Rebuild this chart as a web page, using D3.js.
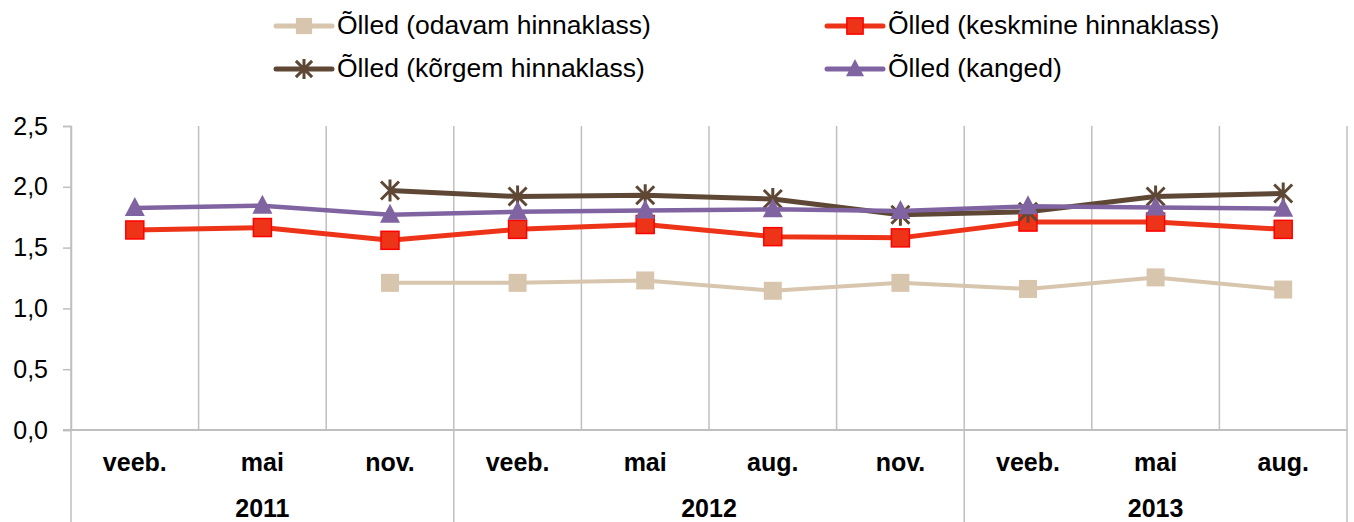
<!DOCTYPE html>
<html lang="et">
<head>
    <meta charset="UTF-8">
    <title>Õlled</title>
    <script src="https://d3js.org/d3.v7.min.js"></script>
    <style>
        body { margin: 0; background: #fff; font-family: "Liberation Sans", Arial, sans-serif; }
        svg text { fill: #000; }
    </style>
</head>
<body>
<div id="chart"></div>
<script>
    // Categories (month, year)
    const months = ["veeb.", "mai", "nov.", "veeb.", "mai", "aug.", "nov.", "veeb.", "mai", "aug."];
    const years = [
        {label: "2011", from: 0, to: 3},
        {label: "2012", from: 3, to: 7},
        {label: "2013", from: 7, to: 10}
    ];
    const yTicks = [0, 0.5, 1.0, 1.5, 2.0, 2.5];

    // Series values (null = no data)
    const odavam   = [null, null, 1.21, 1.21, 1.23, 1.145, 1.21, 1.16, 1.255, 1.155];
    const keskmine = [1.645, 1.665, 1.56, 1.65, 1.69, 1.59, 1.58, 1.71, 1.71, 1.65];
    const korgem   = [null, null, 1.97, 1.92, 1.93, 1.90, 1.77, 1.795, 1.92, 1.945];
    const kanged   = [1.825, 1.845, 1.77, 1.795, 1.805, 1.815, 1.80, 1.84, 1.83, 1.82];

    const series = [
        {name: "Õlled (odavam hinnaklass)", values: odavam, color: "#D8C5AE", marker: "square", stroke: "#D8C5AE", width: 4},
        {name: "Õlled (keskmine hinnaklass)", values: keskmine, color: "#EE3418", marker: "square", stroke: "#FF0000", width: 5},
        {name: "Õlled (kõrgem hinnaklass)", values: korgem, color: "#5E4835", marker: "star", stroke: "#5E4835", width: 5},
        {name: "Õlled (kanged)", values: kanged, color: "#8064A2", marker: "triangle", stroke: "#8064A2", width: 4.5}
    ];

    const W = 1354, H = 522;
    const margin = {left: 71, right: 7, top: 126, bottom: 92};
    const plotW = W - margin.left - margin.right;
    const plotH = H - margin.top - margin.bottom;

    const svg = d3.select("#chart").append("svg")
        .attr("width", W).attr("height", H);

    const x = d3.scaleBand().domain(d3.range(months.length)).range([margin.left, margin.left + plotW]);
    const y = d3.scaleLinear().domain([0, 2.5]).range([margin.top + plotH, margin.top]);

    const grid = "#BFBFBF";
    const edge = i => i < months.length ? x(i) : x.range()[1];

    // vertical gridlines
    svg.append("g").selectAll("line")
        .data(d3.range(months.length + 1))
        .enter().append("line")
        .attr("x1", edge).attr("x2", edge)
        .attr("y1", y(2.5)).attr("y2", y(0))
        .attr("stroke", grid).attr("stroke-width", 1.5);

    // y axis
    const yAxis = svg.append("g")
        .attr("transform", `translate(${margin.left},0)`)
        .call(d3.axisLeft(y).tickValues(yTicks).tickSize(8).tickPadding(15)
            .tickFormat(d => d3.format(".1f")(d).replace(".", ",")));
    yAxis.select(".domain").attr("stroke", grid).attr("stroke-width", 1.5);
    yAxis.selectAll(".tick line").attr("stroke", grid).attr("stroke-width", 1.5);
    yAxis.selectAll(".tick text")
        .style("font-size", "25px").style("font-family", "Liberation Sans, Arial, sans-serif")
        .attr("fill", "#000");

    // x axis line (zero)
    svg.append("line")
        .attr("x1", margin.left - 8).attr("x2", x.range()[1])
        .attr("y1", y(0)).attr("y2", y(0))
        .attr("stroke", grid).attr("stroke-width", 2);

    // year separators
    const seps = [0].concat(years.map(d => d.to));
    svg.append("g").selectAll("line")
        .data(seps)
        .enter().append("line")
        .attr("x1", edge).attr("x2", edge)
        .attr("y1", y(0)).attr("y2", H)
        .attr("stroke", grid).attr("stroke-width", 1.5);

    // month labels
    svg.append("g").selectAll("text")
        .data(months)
        .enter().append("text")
        .attr("x", (d, i) => x(i) + x.bandwidth() / 2)
        .attr("y", y(0) + 41)
        .attr("text-anchor", "middle")
        .style("font-size", "25px").style("font-weight", "bold")
        .text(d => d);

    // year labels
    svg.append("g").selectAll("text")
        .data(years)
        .enter().append("text")
        .attr("x", d => (edge(d.from) + edge(d.to)) / 2)
        .attr("y", y(0) + 87)
        .attr("text-anchor", "middle")
        .style("font-size", "25px").style("font-weight", "bold")
        .text(d => d.label);

    // markers
    function drawMarker(g, type, s, k) {
        if (type === "square") {
            const h = 9 * k;
            g.append("rect").attr("x", -h).attr("y", -h).attr("width", 2 * h).attr("height", 2 * h)
                .attr("fill", s.color).attr("stroke", s.stroke).attr("stroke-width", s.stroke === s.color ? 0 : 1.5);
        } else if (type === "triangle") {
            g.append("path").attr("d", `M0,${-11 * k}L${10 * k},${8 * k}L${-10 * k},${8 * k}Z`).attr("fill", s.color);
        } else if (type === "star") {
            const a = 9 * k, b = 11 * k;
            g.append("path").attr("d", `M${-a},${-a}L${a},${a}M${-a},${a}L${a},${-a}M0,${-b}L0,${b}`)
                .attr("stroke", s.color).attr("stroke-width", 3).attr("fill", "none");
        }
    }

    const line = d3.line()
        .defined(d => d != null)
        .x((d, i) => x(i) + x.bandwidth() / 2)
        .y(d => y(d));

    series.forEach(s => {
        svg.append("path")
            .datum(s.values)
            .attr("fill", "none")
            .attr("stroke", s.color)
            .attr("stroke-width", s.width)
            .attr("stroke-linejoin", "round")
            .attr("d", line);
        s.values.forEach((v, i) => {
            if (v == null) return;
            const g = svg.append("g").attr("transform", `translate(${x(i) + x.bandwidth() / 2},${y(v)})`);
            drawMarker(g, s.marker, s, 1);
        });
    });

    // legend
    const legendPos = [[276, 26], [827, 26], [276, 69], [827, 69]];
    series.forEach((s, i) => {
        const [lx, ly] = legendPos[i];
        const g = svg.append("g").attr("transform", `translate(${lx},${ly})`);
        g.append("line").attr("x1", 0).attr("x2", 56).attr("y1", 0).attr("y2", 0)
            .attr("stroke", s.color).attr("stroke-width", 5).attr("stroke-linecap", "round");
        const m = g.append("g").attr("transform", "translate(28,0)");
        drawMarker(m, s.marker, s, 0.9);
        g.append("text").attr("x", 61).attr("y", 8)
            .style("font-size", "26.5px")
            .text(s.name);
    });
</script>
</body>
</html>
